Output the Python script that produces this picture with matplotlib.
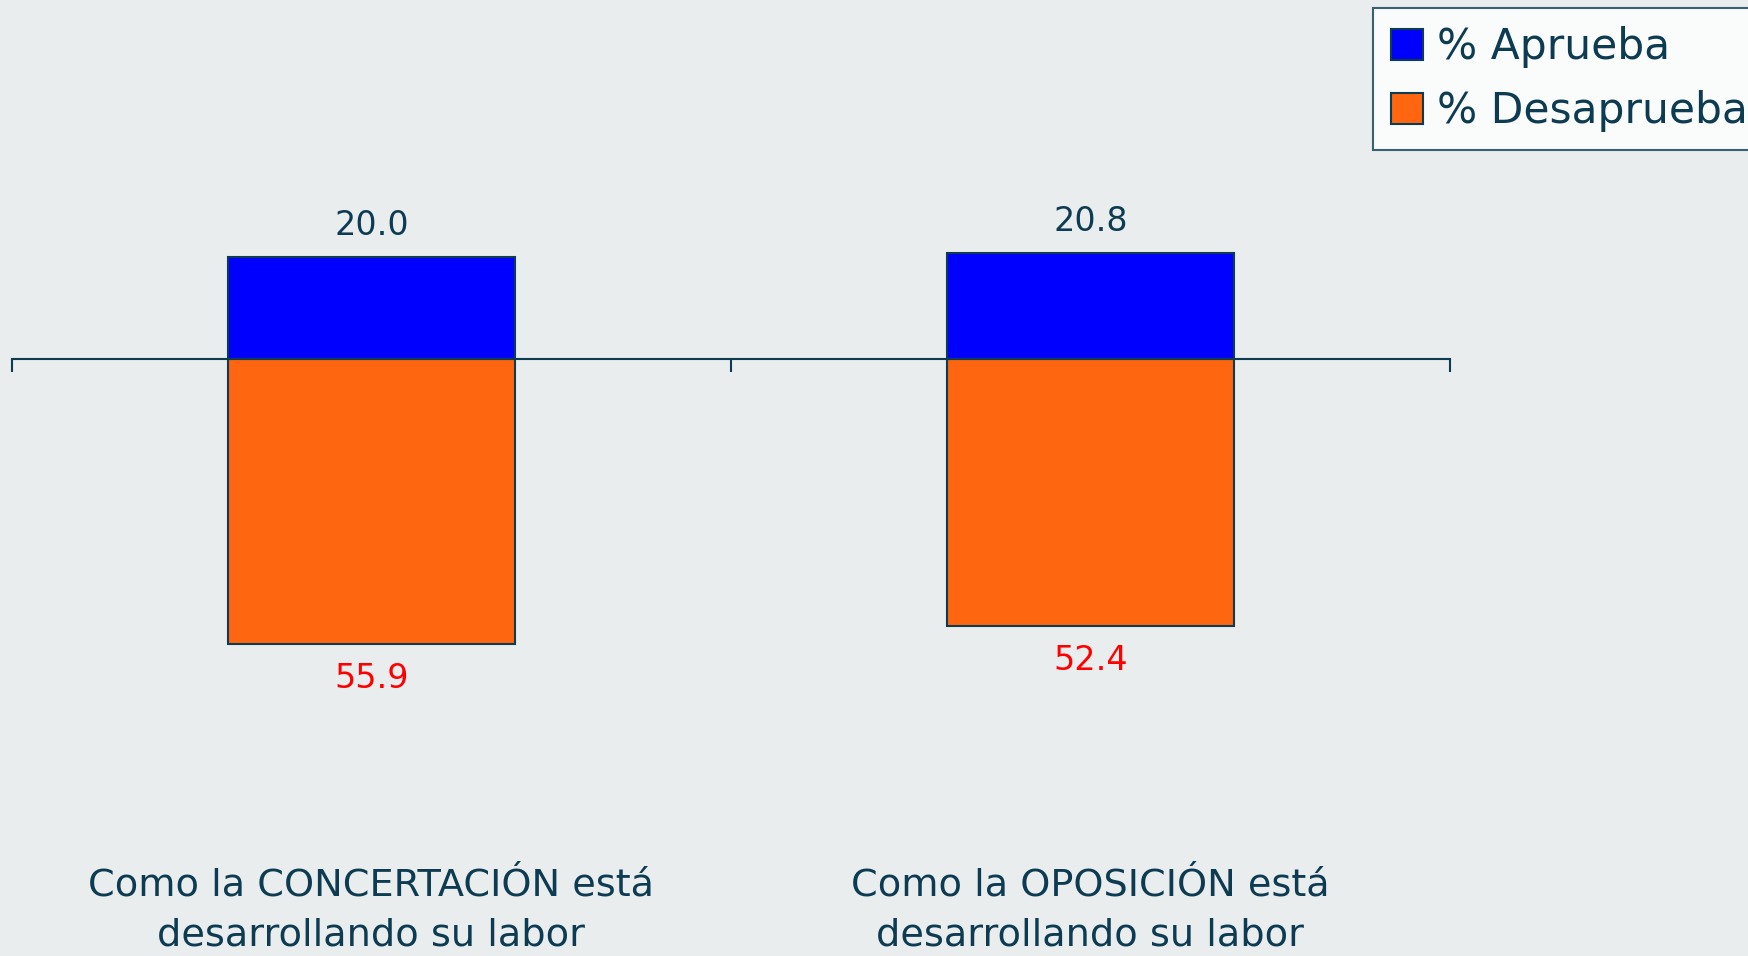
import matplotlib
matplotlib.use('Agg')
import numpy as np
import matplotlib.pyplot as plt
from matplotlib.transforms import blended_transform_factory

categories = ['Como la CONCERTACIÓN está\ndesarrollando su labor',
              'Como la OPOSICIÓN está\ndesarrollando su labor']
aprueba = [20.0, 20.8]
desaprueba = [55.9, 52.4]

bg = '#E9EDEE'
txt = '#0D3B52'
blue = '#0000FF'
orange = '#FF660F'

plt.rcParams['font.family'] = ['DejaVu Sans']

fig = plt.figure(figsize=(17.49, 9.56), dpi=100, facecolor=bg)
# axis line sits at y=359 px, ~5.1 px per unit
ppu = 5.1
ylo, yhi = -70, 30
top_px = 359 - yhi * ppu
h_px = (yhi - ylo) * ppu
ax = fig.add_axes([12 / 1749, 1 - (top_px + h_px) / 956, 1438 / 1749, h_px / 956])
ax.set_facecolor(bg)

x = np.arange(len(categories))
ax.bar(x, aprueba, width=0.4, color=blue, edgecolor=txt, linewidth=1.5, label='% Aprueba')
ax.bar(x, [-v for v in desaprueba], width=0.4, color=orange, edgecolor=txt, linewidth=1.5,
       label='% Desaprueba')

for xi, a, d in zip(x, aprueba, desaprueba):
    ax.annotate(f'{a:.1f}', (xi, a), xytext=(0, 11), textcoords='offset points',
                ha='center', va='bottom', fontsize=24, color=txt)
    ax.annotate(f'{d:.1f}', (xi, -d), xytext=(0, -13), textcoords='offset points',
                ha='center', va='top', fontsize=24, color='#FF0000')

ax.set_xlim(-0.5, 1.5)
ax.set_ylim(ylo, yhi)
for s in ['top', 'right', 'left']:
    ax.spines[s].set_visible(False)
ax.spines['bottom'].set_position(('data', 0))
ax.spines['bottom'].set_color(txt)
ax.spines['bottom'].set_linewidth(1.5)
ax.set_yticks([])
ax.set_xticks([-0.5, 0.5, 1.5])
ax.set_xticklabels([])
ax.tick_params(axis='x', direction='out', length=9, width=1.5, color=txt)

tr = blended_transform_factory(ax.transData, fig.transFigure)
for xi, c in zip(x, categories):
    ax.text(xi, 1 - 911 / 956, c, transform=tr, ha='center', va='center',
            fontsize=27.5, color=txt, linespacing=1.5)

leg = ax.legend(loc='upper left', bbox_to_anchor=(1373 / 1749, 1 - 8 / 956),
                bbox_transform=fig.transFigure, borderaxespad=0, fontsize=30.5,
                frameon=True, fancybox=False, handlelength=0.75, handleheight=0.75,
                handletextpad=0.35, borderpad=0.42, labelspacing=0.52, labelcolor=txt)
leg.get_frame().set_edgecolor(txt)
leg.get_frame().set_linewidth(1.5)
leg.get_frame().set_facecolor('white')

fig.savefig('out.png', dpi=100, facecolor=bg)
